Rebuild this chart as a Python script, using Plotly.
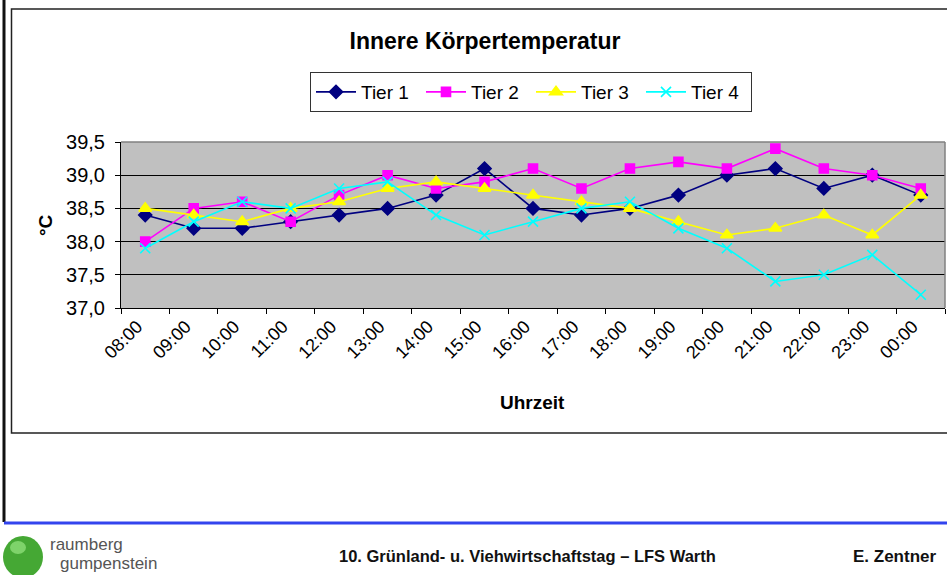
import plotly.graph_objects as go

hours = ["08:00", "09:00", "10:00", "11:00", "12:00", "13:00", "14:00", "15:00", "16:00",
         "17:00", "18:00", "19:00", "20:00", "21:00", "22:00", "23:00", "00:00"]
tier1 = [38.4, 38.2, 38.2, 38.3, 38.4, 38.5, 38.7, 39.1, 38.5, 38.4, 38.5, 38.7, 39.0, 39.1, 38.8, 39.0, 38.7]
tier2 = [38.0, 38.5, 38.6, 38.3, 38.7, 39.0, 38.8, 38.9, 39.1, 38.8, 39.1, 39.2, 39.1, 39.4, 39.1, 39.0, 38.8]
tier3 = [38.5, 38.4, 38.3, 38.5, 38.6, 38.8, 38.9, 38.8, 38.7, 38.6, 38.5, 38.3, 38.1, 38.2, 38.4, 38.1, 38.7]
tier4 = [37.9, 38.3, 38.6, 38.5, 38.8, 38.9, 38.4, 38.1, 38.3, 38.5, 38.6, 38.2, 37.9, 37.4, 37.5, 37.8, 37.2]
y_ticks = [37.0, 37.5, 38.0, 38.5, 39.0, 39.5]

W, H = 947, 575
L, R, T, B = 121, 2, 142, 267
PW, PH = W - L - R, H - T - B


def px(x):
    return (x - L) / PW


def py(y):
    return (H - B - y) / PH


FONT = "Arial, Liberation Sans, sans-serif"

fig = go.Figure()
series = [
    ("Tier 1", tier1, "#000080", "diamond", 10),
    ("Tier 2", tier2, "#FF00FF", "square", 9),
    ("Tier 3", tier3, "#FFFF00", "triangle-up", 11),
    ("Tier 4", tier4, "#00FFFF", "x-thin", 10),
]
for name, vals, col, sym, size in series:
    fig.add_trace(go.Scatter(
        x=hours, y=vals, name=name, mode="lines+markers",
        line=dict(color=col, width=1.6),
        marker=dict(symbol=sym, size=size, color=col,
                    line=dict(color=col, width=1.6)),
    ))

shapes = [
    dict(type="rect", xref="paper", yref="paper", x0=px(11.5), x1=px(990),
         y0=py(433), y1=py(9), line=dict(color="#222222", width=1.5), layer="below"),
    dict(type="line", xref="paper", yref="paper", x0=px(4), x1=px(4),
         y0=py(0), y1=py(522), line=dict(color="#111111", width=3)),
    dict(type="line", xref="paper", yref="paper", x0=px(4), x1=px(960),
         y0=py(523), y1=py(523), line=dict(color="#3344EE", width=3)),
    dict(type="line", xref="paper", yref="paper", x0=0, x1=1, y0=1, y1=1,
         line=dict(color="#808080", width=1.5)),
    dict(type="line", xref="paper", yref="paper", x0=1, x1=1, y0=0, y1=1,
         line=dict(color="#808080", width=1.5)),
    dict(type="circle", xref="paper", yref="paper", x0=px(3), x1=px(43),
         y0=py(578), y1=py(536), fillcolor="#45A834", line=dict(width=0)),
    dict(type="circle", xref="paper", yref="paper", x0=px(10), x1=px(26),
         y0=py(554), y1=py(541), fillcolor="#7ED36A", line=dict(width=0)),
]

annotations = [
    dict(text="<b>°C</b>", xref="paper", yref="paper", x=px(45), y=py(225),
         xanchor="center", yanchor="middle",
         textangle=-90, showarrow=False, font=dict(family=FONT, size=19, color="black")),
    dict(text="<b>Uhrzeit</b>", xref="paper", yref="paper", x=px(532), y=py(402),
         xanchor="center", yanchor="middle",
         showarrow=False, font=dict(family=FONT, size=19, color="black")),
    dict(text="<b>10. Grünland- u. Viehwirtschaftstag – LFS Warth</b>", xref="paper", yref="paper",
         x=px(527), y=py(556), xanchor="center", yanchor="middle", showarrow=False,
         font=dict(family=FONT, size=16.5, color="#111111")),
    dict(text="<b>E. Zentner</b>", xref="paper", yref="paper", x=px(895), y=py(556),
         xanchor="center", yanchor="middle",
         showarrow=False, font=dict(family=FONT, size=17, color="#111111")),
    dict(text="raumberg", xref="paper", yref="paper", x=px(48), y=py(544), xanchor="left",
         yanchor="middle", showarrow=False, font=dict(family=FONT, size=17, color="#555555")),
    dict(text="gumpenstein", xref="paper", yref="paper", x=px(58), y=py(563), xanchor="left",
         yanchor="middle", showarrow=False, font=dict(family=FONT, size=17, color="#555555")),
]

fig.update_layout(
    width=W, height=H,
    margin=dict(l=L, r=R, t=T, b=B, pad=0, autoexpand=False),
    paper_bgcolor="white", plot_bgcolor="#C0C0C0",
    separators=",.",
    font=dict(family=FONT, color="black"),
    title=dict(text="<b>Innere Körpertemperatur</b>", x=485 / W, y=1 - 41 / H,
               xref="container", yref="container", xanchor="center", yanchor="middle",
               font=dict(family=FONT, size=23, color="black")),
    showlegend=True,
    legend=dict(orientation="h", x=px(531), y=py(72), xanchor="center", yanchor="top",
                bgcolor="white", bordercolor="#333333", borderwidth=1,
                font=dict(family=FONT, size=19, color="black"),
                itemwidth=40, entrywidth=55, entrywidthmode="pixels",
                itemsizing="trace", tracegroupgap=0),
    xaxis=dict(type="category", categoryorder="array", categoryarray=hours,
               range=[-0.5, len(hours) - 0.5],
               tickangle=-45, tickson="boundaries", ticks="outside", ticklen=5,
               tickcolor="black", showline=True, linecolor="black", linewidth=1,
               showgrid=False, zeroline=False, automargin=False,
               ticklabelshift=-8,
               tickfont=dict(family=FONT, size=18, color="black")),
    yaxis=dict(range=[37.0, 39.5], tickvals=y_ticks, tickformat=".1f",
               ticks="outside", ticklen=5, tickcolor="black",
               showline=True, linecolor="black", linewidth=1,
               showgrid=True, gridcolor="#000000", gridwidth=1, zeroline=False,
               automargin=False, ticklabelstandoff=6,
               tickfont=dict(family=FONT, size=20, color="black")),
    shapes=shapes,
    annotations=annotations,
)

fig.write_html("out.html", config={"displayModeBar": False},
               post_script="document.body.style.margin='0';")
